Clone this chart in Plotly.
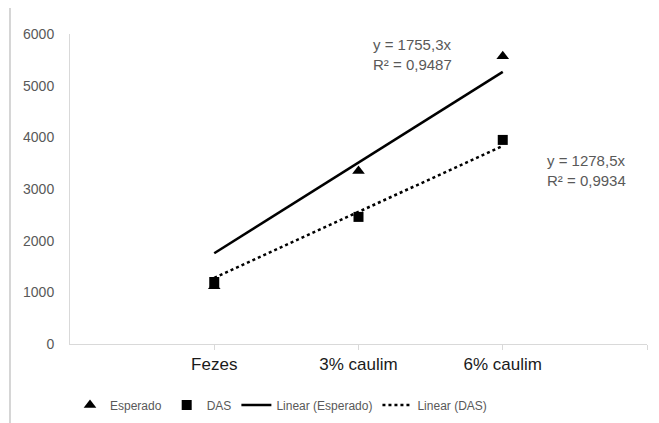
import plotly.graph_objects as go

categories = ["Fezes", "3% caulim", "6% caulim"]
x_pos = [1, 2, 3]
esperado = [1120, 3350, 5570]
das = [1200, 2460, 3950]
slope_esperado = 1755.3
slope_das = 1278.5
r2_esperado = 0.9487
r2_das = 0.9934
y_ticks = [0, 1000, 2000, 3000, 4000, 5000, 6000]

FONT = "Liberation Sans, Arial, sans-serif"
GRAY = "#595959"

fig = go.Figure()
fig.add_trace(go.Scatter(x=x_pos, y=esperado, mode="markers", name="Esperado",
                         marker=dict(symbol="triangle-up", size=11, color="black")))
fig.add_trace(go.Scatter(x=x_pos, y=das, mode="markers", name="DAS",
                         marker=dict(symbol="square", size=10, color="black")))
fig.add_trace(go.Scatter(x=[x_pos[0], x_pos[-1]],
                         y=[slope_esperado * x_pos[0], slope_esperado * x_pos[-1]],
                         mode="lines", name="Linear (Esperado)",
                         line=dict(color="black", width=2.5)))
fig.add_trace(go.Scatter(x=[x_pos[0], x_pos[-1]],
                         y=[slope_das * x_pos[0], slope_das * x_pos[-1]],
                         mode="lines", name="Linear (DAS)",
                         line=dict(color="black", width=2.5, dash="dot")))

def fmt(v, d):
    return f"{v:.{d}f}".replace(".", ",")

fig.add_annotation(x=2.09, y=5610, xref="x", yref="y", xanchor="left", yanchor="middle",
                   text=f"y = {fmt(slope_esperado,1)}x<br>R² = {fmt(r2_esperado,4)}",
                   showarrow=False, align="left", font=dict(family=FONT, size=15, color=GRAY))
fig.add_annotation(x=3.29, y=3360, xref="x", yref="y", xanchor="left", yanchor="middle",
                   text=f"y = {fmt(slope_das,1)}x<br>R² = {fmt(r2_das,4)}",
                   showarrow=False, align="left", font=dict(family=FONT, size=15, color=GRAY))

fig.add_shape(type="line", xref="paper", yref="paper", x0=-0.104, x1=-0.104, y0=-0.26, y1=1.09,
              line=dict(color="#c8c8c8", width=1.5))

fig.update_layout(
    width=651, height=415,
    margin=dict(l=62, r=12, t=26, b=79, autoexpand=False),
    paper_bgcolor="white", plot_bgcolor="white",
    font=dict(family=FONT, color=GRAY),
    showlegend=True,
    legend=dict(orientation="h", x=0.0, xanchor="left", y=-0.197, yanchor="middle",
                font=dict(family=FONT, size=12, color=GRAY), traceorder="normal"),
    xaxis=dict(range=[0, 4], tickmode="array", tickvals=[1, 2, 3, 4],
               ticktext=categories + [""], showgrid=False, zeroline=False,
               showline=True, linecolor="#d9d9d9", linewidth=1,
               ticks="outside", ticklen=5, tickcolor="#d9d9d9",
               tickfont=dict(family=FONT, size=17, color="#1a1a1a")),
    yaxis=dict(range=[0, 6000], tickmode="array", tickvals=y_ticks, showgrid=False,
               zeroline=False, showline=True, linecolor="#d9d9d9", linewidth=1,
               ticks="", ticklabelstandoff=12,
               tickfont=dict(family=FONT, size=14, color=GRAY)),
)

fig.write_html("out.html")
